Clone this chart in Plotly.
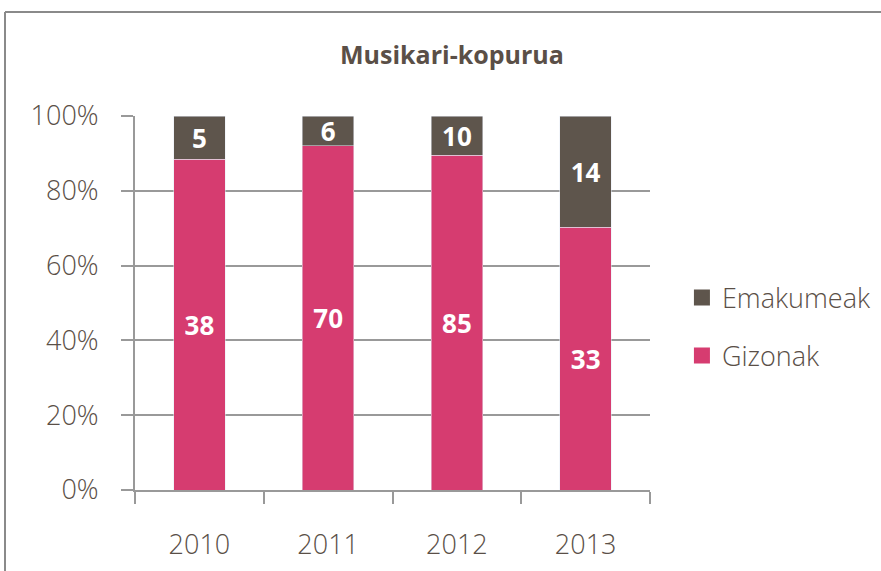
import plotly.graph_objects as go

years = ["2010", "2011", "2012", "2013"]
gizonak = [38, 70, 85, 33]
emakumeak = [5, 6, 10, 14]
pct_ticks = [0, 20, 40, 60, 80, 100]
pct_labels = [f"{v}%" for v in pct_ticks]

pink = "#D63C70"
brown = "#5E554C"
text_col = "#5A4F47"
grid_col = "#999999"
font_family = "Open Sans, Lato, sans-serif"

fig = go.Figure()

# stacked bars, normalised to 100%
for name, vals, col in [("Gizonak", gizonak, pink), ("Emakumeak", emakumeak, brown)]:
    fig.add_trace(go.Bar(x=years, y=vals, name=name, marker_color=col,
                         text=vals, textposition="inside", insidetextanchor="middle",
                         textangle=0, constraintext="none",
                         textfont=dict(color="white", size=26, family=font_family, weight="bold"),
                         showlegend=False, width=0.4))

# legend entries with larger squares
for name, col in [("Emakumeak", brown), ("Gizonak", pink)]:
    fig.add_trace(go.Scatter(x=[None], y=[None], mode="markers", name=name,
                             legendgroup=name,
                             marker=dict(symbol="square", size=18, color=col)))

fig.update_layout(
    barmode="stack",
    barnorm="percent",
    width=881, height=571,
    margin=dict(l=135, r=231, t=116, b=81, autoexpand=False),
    paper_bgcolor="white", plot_bgcolor="white",
    font=dict(family=font_family, color=text_col, weight=300),
    title=dict(text="<b>Musikari-kopurua</b>", x=0.513, xref="container",
               y=1 - 55 / 571, yref="container", xanchor="center", yanchor="middle",
               font=dict(size=25, color=text_col)),
    legend=dict(x=1.062, y=0.436, xanchor="left", yanchor="middle",
                traceorder="grouped", tracegroupgap=20,
                font=dict(size=27, color=text_col, weight=300), itemwidth=30),
    showlegend=True,
)

fig.update_xaxes(showline=True, linecolor=grid_col, linewidth=2,
                 ticks="outside", ticklen=12, tickcolor=grid_col, tickwidth=2,
                 tickson="boundaries", ticklabelstandoff=30, automargin=False,
                 tickfont=dict(size=27, color=text_col, weight=300))
fig.update_yaxes(range=[0, 100], tickvals=pct_ticks, ticktext=pct_labels,
                 showgrid=True, gridcolor=grid_col, gridwidth=2,
                 showline=True, linecolor=grid_col, linewidth=2,
                 ticks="outside", ticklen=12, tickcolor=grid_col, tickwidth=2,
                 ticklabelstandoff=17, zeroline=False, automargin=False,
                 tickfont=dict(size=27, color=text_col, weight=300))

# outer frame (cropped at right and bottom)
fx = (5 - 135) / 515
fy = (490 - 12) / 374
fig.add_shape(type="line", xref="paper", yref="paper", x0=fx, x1=fx, y0=-1, y1=fy,
              line=dict(color="#8A8A8A", width=2))
fig.add_shape(type="line", xref="paper", yref="paper", x0=fx, x1=2, y0=fy, y1=fy,
              line=dict(color="#8A8A8A", width=2))

fig.write_html("out.html", config={"displayModeBar": False},
               post_script="document.body.style.margin='0';")
